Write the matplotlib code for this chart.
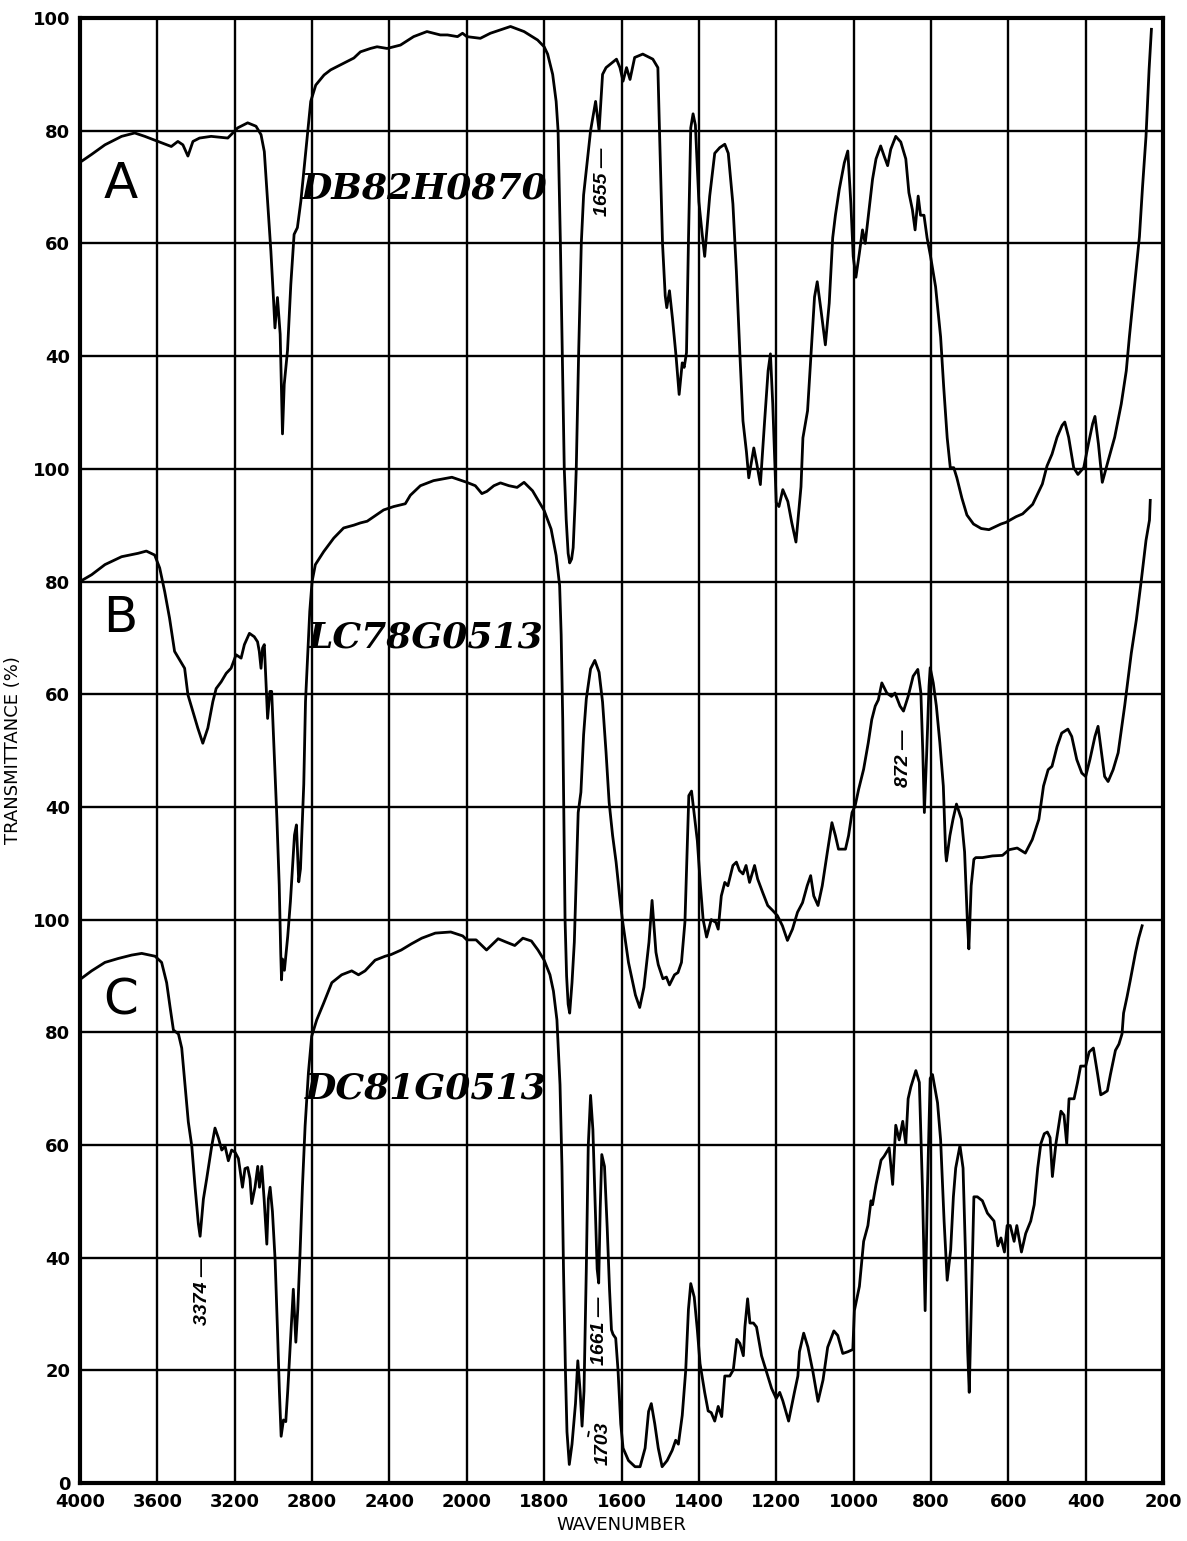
import numpy as np
import matplotlib.pyplot as plt

plt.rcParams['font.family'] = 'DejaVu Sans'

# three IR spectra, wavenumber (cm-1) / transmittance (%)
a_wn = [4000, 3991, 3940, 3871, 3785, 3717, 3665, 3597, 3528, 3494, 3468, 3442, 3416, 3382, 3322, 3236,
        3210, 3185, 3133, 3090, 3064, 3047, 3030, 3013, 2999, 2992, 2979, 2965, 2953, 2944, 2927, 2910,
        2893, 2876, 2858, 2841, 2824, 2807, 2781, 2738, 2704, 2670, 2618, 2584, 2550, 2498, 2464, 2412,
        2343, 2275, 2206, 2137, 2100, 2048, 2022, 2000, 1965, 1939, 1887, 1852, 1817, 1800, 1791, 1778,
        1769, 1764, 1758, 1753, 1748, 1743, 1738, 1734, 1729, 1725, 1720, 1717, 1711, 1704, 1698, 1680,
        1667, 1658, 1649, 1640, 1613, 1604, 1596, 1587, 1578, 1566, 1545, 1519, 1506, 1502, 1494, 1487,
        1483, 1476, 1468, 1459, 1451, 1443, 1438, 1432, 1427, 1421, 1415, 1409, 1400, 1392, 1385, 1372,
        1359, 1346, 1333, 1324, 1312, 1303, 1294, 1286, 1277, 1271, 1258, 1250, 1241, 1230, 1221, 1215,
        1209, 1200, 1193, 1183, 1170, 1160, 1149, 1136, 1131, 1119, 1110, 1101, 1094, 1084, 1073, 1063,
        1054, 1047, 1037, 1024, 1015, 1007, 1001, 994, 985, 977, 970, 960, 951, 942, 930, 921,
        912, 904, 891, 878, 865, 857, 848, 841, 833, 827, 818, 810, 801, 788, 775, 767,
        758, 750, 741, 733, 720, 707, 690, 670, 650, 619, 606, 580, 563, 537, 512, 500,
        487, 474, 461, 454, 444, 431, 420, 405, 393, 382, 376, 367, 357, 342, 325, 308,
        295, 287, 274, 261, 253, 244, 236, 230]
a_t = [74.5, 74.6, 75.8, 77.5, 79.0, 79.6, 79.0, 78.1, 77.2, 78.1, 77.5, 75.5, 78.1, 78.7, 79.0, 78.7,
       79.6, 80.5, 81.4, 80.8, 79.3, 76.3, 67.5, 58.6, 49.8, 45.0, 50.4, 43.9, 26.2, 35.0, 41.0, 52.7,
       61.6, 62.8, 67.5, 73.4, 79.3, 85.2, 88.1, 89.9, 90.8, 91.4, 92.3, 92.9, 94.0, 94.6, 94.9, 94.6,
       95.2, 96.7, 97.6, 97.0, 97.0, 96.7, 97.3, 96.7, 96.4, 97.3, 98.5, 97.6, 96.1, 94.9, 93.6, 90.0,
       85.2, 80.0, 60.0, 40.0, 20.0, 11.0, 5.0, 3.3, 4.0, 6.0, 14.0, 20.0, 40.0, 60.0, 68.6, 80.0,
       85.2, 80.0, 90.0, 91.2, 92.7, 91.2, 88.8, 91.2, 89.1, 93.0, 93.6, 92.7, 91.2, 80.5, 60.0, 50.7,
       48.6, 51.6, 46.5, 40.0, 33.2, 38.8, 38.0, 40.6, 60.2, 80.5, 83.0, 81.0, 67.4, 62.0, 57.7, 68.4,
       76.0, 77.0, 77.6, 76.0, 67.0, 55.0, 40.4, 28.5, 23.0, 18.4, 23.7, 20.8, 17.2, 28.5, 37.4, 40.4,
       31.5, 14.0, 13.3, 16.3, 14.2, 10.5, 7.0, 16.8, 25.5, 30.3, 40.4, 50.5, 53.2, 48.0, 42.0, 49.4,
       61.0, 65.0, 69.6, 74.3, 76.4, 67.0, 57.7, 54.0, 58.3, 62.4, 60.0, 66.0, 71.4, 75.0, 77.3, 75.5,
       73.8, 76.7, 79.0, 78.0, 75.0, 69.0, 66.0, 62.4, 68.4, 65.0, 65.0, 61.0, 57.7, 52.3, 43.4, 34.5,
       25.5, 20.2, 20.2, 18.4, 14.8, 11.8, 10.2, 9.4, 9.2, 10.2, 10.5, 11.5, 12.0, 13.7, 17.3, 20.5,
       22.6, 25.6, 27.7, 28.3, 25.6, 20.2, 19.0, 20.2, 24.4, 28.0, 29.3, 24.4, 17.6, 21.4, 25.6, 31.5,
       37.4, 43.4, 52.3, 61.2, 70.0, 79.0, 90.9, 98.0]

b_wn = [4000, 3940, 3871, 3785, 3700, 3657, 3614, 3588, 3562, 3537, 3511, 3485, 3459, 3442, 3416, 3391,
        3365, 3339, 3313, 3296, 3270, 3244, 3219, 3193, 3167, 3150, 3124, 3099, 3082, 3073, 3064, 3056,
        3047, 3038, 3030, 3018, 3009, 2996, 2982, 2970, 2962, 2958, 2953, 2943, 2926, 2912, 2891, 2881,
        2869, 2860, 2843, 2834, 2822, 2812, 2800, 2783, 2740, 2688, 2637, 2584, 2550, 2515, 2481, 2430,
        2378, 2318, 2292, 2240, 2172, 2077, 2000, 1978, 1961, 1948, 1930, 1913, 1891, 1870, 1852, 1830,
        1813, 1800, 1782, 1769, 1760, 1756, 1752, 1749, 1746, 1742, 1738, 1734, 1728, 1722, 1719, 1712,
        1705, 1698, 1691, 1680, 1669, 1658, 1649, 1640, 1632, 1623, 1614, 1605, 1598, 1582, 1564, 1553,
        1542, 1529, 1521, 1511, 1505, 1493, 1484, 1476, 1463, 1454, 1445, 1436, 1426, 1419, 1404, 1396,
        1389, 1380, 1368, 1356, 1350, 1342, 1333, 1325, 1312, 1303, 1295, 1286, 1278, 1269, 1256, 1248,
        1235, 1222, 1209, 1197, 1184, 1171, 1158, 1145, 1132, 1120, 1111, 1103, 1092, 1081, 1068, 1056,
        1047, 1039, 1021, 1013, 1004, 996, 987, 974, 962, 953, 944, 936, 927, 914, 902, 893,
        880, 871, 859, 846, 834, 826, 821, 817, 811, 805, 802, 794, 786, 777, 768, 762,
        760, 751, 743, 734, 721, 713, 706, 702, 696, 689, 684, 667, 641, 615, 598, 577,
        556, 538, 521, 509, 497, 487, 474, 462, 446, 436, 423, 410, 400, 389, 376, 368,
        359, 351, 342, 329, 316, 299, 282, 269, 256, 244, 235, 233]
b_t = [80.0, 81.2, 83.0, 84.4, 85.0, 85.4, 84.7, 82.4, 78.2, 73.5, 67.6, 66.1, 64.6, 59.9, 56.9, 54.0,
       51.3, 54.0, 58.7, 61.0, 62.2, 63.7, 64.6, 67.0, 66.4, 68.8, 70.8, 70.2, 69.3, 67.6, 64.6, 68.2,
       68.8, 61.7, 55.7, 60.5, 60.5, 49.8, 38.0, 26.2, 14.0, 9.3, 13.0, 11.0, 17.0, 23.2, 35.0, 36.8,
       26.7, 29.0, 44.0, 58.7, 67.6, 74.7, 80.0, 83.0, 85.3, 87.7, 89.5, 90.0, 90.4, 90.7, 91.5, 92.7,
       93.3, 93.8, 95.3, 97.0, 97.9, 98.5, 97.6, 97.0, 95.6, 96.0, 97.0, 97.5, 97.0, 96.7, 97.6, 96.1,
       94.1, 92.6, 89.3, 84.6, 79.3, 70.5, 55.6, 37.9, 20.1, 10.0, 5.0, 3.4, 8.8, 16.0, 23.0, 39.0,
       42.6, 52.8, 59.2, 64.5, 66.0, 63.9, 58.6, 49.7, 40.8, 34.9, 30.2, 24.3, 20.1, 12.4, 6.6, 4.4,
       8.0, 16.0, 23.4, 14.2, 12.0, 9.5, 9.8, 8.4, 10.2, 10.6, 12.4, 19.6, 42.0, 42.8, 34.0, 26.0,
       20.0, 16.9, 20.0, 19.5, 18.3, 24.2, 26.6, 26.0, 29.6, 30.2, 28.7, 28.1, 29.6, 26.6, 29.6, 27.2,
       24.8, 22.5, 21.6, 20.7, 18.9, 16.3, 18.3, 21.3, 23.0, 26.0, 27.8, 24.2, 22.5, 26.0, 31.9, 37.2,
       34.9, 32.5, 32.5, 34.9, 39.0, 40.2, 43.1, 46.7, 51.4, 55.5, 57.9, 59.0, 62.0, 60.2, 59.6, 60.2,
       57.9, 57.0, 59.6, 63.2, 64.4, 60.2, 49.6, 39.0, 49.6, 61.4, 64.7, 62.0, 57.9, 51.4, 43.7, 31.9,
       30.4, 34.9, 37.8, 40.5, 37.8, 32.0, 20.0, 14.8, 26.0, 30.7, 31.0, 31.0, 31.3, 31.4, 32.4, 32.7,
       31.8, 34.2, 37.8, 43.7, 46.6, 47.2, 50.7, 53.1, 53.8, 52.5, 48.4, 46.0, 45.4, 48.4, 52.5, 54.3,
       49.6, 45.4, 44.5, 46.6, 49.6, 58.0, 67.3, 73.2, 80.3, 87.3, 90.9, 94.4]

c_wn = [4000, 3995, 3940, 3871, 3802, 3733, 3681, 3612, 3578, 3552, 3534, 3517, 3491, 3474, 3457, 3440,
        3422, 3405, 3388, 3379, 3362, 3345, 3319, 3302, 3284, 3267, 3250, 3233, 3216, 3198, 3181, 3172,
        3160, 3147, 3133, 3121, 3112, 3095, 3081, 3072, 3060, 3048, 3034, 3026, 3017, 3005, 2991, 2979,
        2969, 2960, 2948, 2936, 2926, 2912, 2897, 2884, 2874, 2862, 2850, 2836, 2819, 2802, 2776, 2741,
        2698, 2647, 2595, 2560, 2526, 2474, 2422, 2391, 2339, 2286, 2233, 2163, 2083, 2021, 2000, 1976,
        1949, 1919, 1898, 1876, 1855, 1833, 1816, 1800, 1785, 1776, 1767, 1759, 1754, 1750, 1745, 1741,
        1735, 1728, 1719, 1713, 1707, 1702, 1697, 1691, 1686, 1680, 1674, 1668, 1663, 1659, 1655, 1651,
        1644, 1637, 1631, 1626, 1622, 1615, 1609, 1602, 1596, 1582, 1565, 1552, 1539, 1530, 1523, 1514,
        1505, 1495, 1482, 1469, 1460, 1453, 1443, 1434, 1427, 1421, 1412, 1404, 1397, 1385, 1376, 1368,
        1359, 1350, 1341, 1333, 1320, 1311, 1302, 1294, 1285, 1281, 1274, 1268, 1259, 1251, 1238, 1225,
        1212, 1200, 1191, 1183, 1168, 1153, 1144, 1140, 1129, 1118, 1105, 1092, 1079, 1067, 1051, 1041,
        1028, 1015, 1002, 998, 985, 974, 963, 955, 951, 942, 929, 921, 908, 899, 891, 882,
        873, 865, 859, 852, 839, 830, 822, 815, 809, 802, 796, 783, 775, 766, 758, 749,
        742, 736, 725, 717, 711, 705, 701, 696, 689, 680, 667, 654, 637, 627, 619, 610,
        603, 595, 585, 578, 566, 555, 542, 533, 524, 516, 507, 499, 492, 486, 477, 464,
        456, 449, 443, 430, 421, 413, 400, 391, 380, 369, 361, 353, 344, 336, 323, 314,
        306, 302, 293, 285, 271, 263, 254]
c_t = [89.2, 89.5, 90.9, 92.4, 93.1, 93.7, 94.0, 93.5, 92.4, 88.8, 84.4, 80.4, 79.7, 77.2, 70.6, 64.1,
       59.8, 52.5, 46.0, 43.8, 50.4, 54.0, 59.8, 63.0, 61.2, 59.1, 59.8, 57.2, 59.1, 58.7, 57.6, 55.4,
       52.5, 55.8, 56.0, 54.0, 49.6, 52.5, 56.2, 52.5, 56.2, 50.4, 42.4, 50.4, 52.5, 48.2, 39.5, 27.2,
       16.3, 8.3, 11.2, 10.9, 16.3, 25.0, 34.4, 25.0, 30.8, 41.0, 52.5, 63.4, 72.8, 79.3, 82.2, 85.1,
       88.8, 90.2, 90.9, 90.2, 90.9, 92.8, 93.5, 93.8, 94.6, 95.7, 96.7, 97.6, 97.8, 97.1, 96.4, 96.4,
       94.6, 96.6, 96.0, 95.4, 96.7, 96.2, 94.6, 92.8, 90.2, 87.3, 82.2, 70.7, 56.2, 38.0, 20.0, 9.1,
       3.3, 6.9, 14.1, 21.7, 16.3, 10.1, 16.3, 38.0, 59.8, 68.8, 62.7, 48.9, 38.0, 35.5, 48.9, 58.3,
       56.2, 45.3, 34.4, 27.2, 26.4, 25.7, 20.0, 10.5, 6.2, 4.0, 2.9, 2.9, 6.2, 12.7, 14.1, 10.5,
       6.2, 2.9, 4.0, 5.8, 7.6, 6.9, 12.0, 20.0, 30.8, 35.4, 33.0, 27.2, 21.2, 16.1, 12.8, 12.5,
       11.0, 13.6, 11.8, 19.0, 19.0, 20.1, 25.5, 24.8, 22.6, 27.7, 32.7, 28.4, 28.4, 27.7, 22.6, 19.7,
       16.8, 15.0, 16.1, 14.6, 11.0, 16.1, 19.0, 23.3, 26.6, 24.1, 19.7, 14.5, 18.3, 24.1, 27.0, 26.2,
       23.0, 23.3, 23.7, 30.6, 34.9, 42.9, 45.7, 50.1, 49.4, 53.0, 57.3, 58.0, 59.5, 53.0, 63.5, 60.9,
       64.2, 60.2, 68.2, 70.3, 73.2, 71.1, 52.3, 30.6, 52.3, 71.8, 72.5, 67.5, 60.9, 46.5, 36.0, 41.4,
       50.8, 55.9, 59.9, 55.9, 41.4, 23.3, 16.1, 30.6, 50.8, 50.8, 50.1, 47.9, 46.5, 42.1, 43.5, 41.0,
       45.7, 45.7, 42.9, 45.7, 41.0, 44.3, 46.5, 49.4, 55.9, 60.2, 62.0, 62.3, 61.3, 54.4, 60.2, 66.0,
       65.3, 60.2, 68.2, 68.2, 71.1, 74.0, 74.0, 76.5, 77.2, 72.5, 68.9, 69.2, 69.6, 72.5, 76.8, 77.9,
       79.7, 83.4, 86.3, 89.1, 94.2, 96.7, 98.9]

panel_names = ['A', 'B', 'C']
sample_ids = ['DB82H0870', 'LC78G0513', 'DC81G0513']
offsets = [160, 80, 0]   # each panel is stacked 80 % above the next one

x_ticks = [4000, 3600, 3200, 2800, 2400, 2000, 1800, 1600, 1400, 1200, 1000, 800, 600, 400, 200]
y_ticks = list(range(0, 261, 20))
y_labels = [100, 80, 60, 40, 100, 80, 60, 40, 100, 80, 60, 40, 20, 0][::-1]

# band marks: (text, wavenumber, height on the shared axis)
band_labels = [('1655 \u2014', 1649, 230.9), ('872 \u2014', 872, 128.7),
               ('3374 \u2014', 3369, 34.1), ('1661 \u2014', 1656, 27.0), ('1703', 1648, 7.1)]


def fwd(w):
    # wavenumber axis is compressed 2:1 above 2000 cm-1
    w = np.asarray(w, dtype=float)
    return np.where(w <= 2000, w / 200.0, 10.0 + (w - 2000.0) / 400.0)


def inv(p):
    p = np.asarray(p, dtype=float)
    return np.where(p <= 10, p * 200.0, 2000.0 + (p - 10.0) * 400.0)


fig = plt.figure(figsize=(11.87, 15.41), dpi=100)
ax = fig.add_axes([0.0674, 0.0376, 0.9124, 0.9507])
ax.set_xscale('function', functions=(fwd, inv))
ax.set_xlim(4000, 200)
ax.set_ylim(0, 260)

ax.set_xticks(x_ticks)
ax.set_xticklabels([str(t) for t in x_ticks])
ax.set_yticks(y_ticks)
ax.set_yticklabels([str(v) for v in y_labels])
ax.minorticks_off()
ax.tick_params(length=0, labelsize=13, pad=7)
for lab in ax.get_xticklabels() + ax.get_yticklabels():
    lab.set_fontweight('bold')
ax.grid(True, color='black', linewidth=1.7)
for sp in ax.spines.values():
    sp.set_linewidth(3.0)
    sp.set_zorder(5)

for wn, t, off in zip([a_wn, b_wn, c_wn], [a_t, b_t, c_t], offsets):
    ax.plot(wn, np.array(t) + off, color='black', linewidth=2.0,
            solid_joinstyle='round', zorder=3)

name_pos = [230.6, 153.5, 85.7]
for name, y in zip(panel_names, name_pos):
    ax.text(3790, y, name, fontsize=36, ha='center', va='center', zorder=4)

id_pos = [(2221, 229.8), (2211, 150.0), (2214, 70.1)]
for sid, (x, y) in zip(sample_ids, id_pos):
    ax.text(x, y, sid, family='DejaVu Serif', style='italic', weight='bold',
            fontsize=26, ha='center', va='center', zorder=4)

for txt, x, y in band_labels:
    ax.text(x, y, txt, family='Liberation Sans', style='italic', weight='bold',
            fontsize=14, rotation=90, ha='center', va='center', zorder=4)
ax.annotate('', xy=(1683, 9.6), xytext=(1688, 7.8),
            arrowprops=dict(arrowstyle='-', color='black', linewidth=1.3))

ax.set_xlabel('WAVENUMBER', fontsize=13, labelpad=4)
ax.set_ylabel('TRANSMITTANCE (%)', fontsize=13, labelpad=8)

plt.savefig('out.png', dpi=100)
